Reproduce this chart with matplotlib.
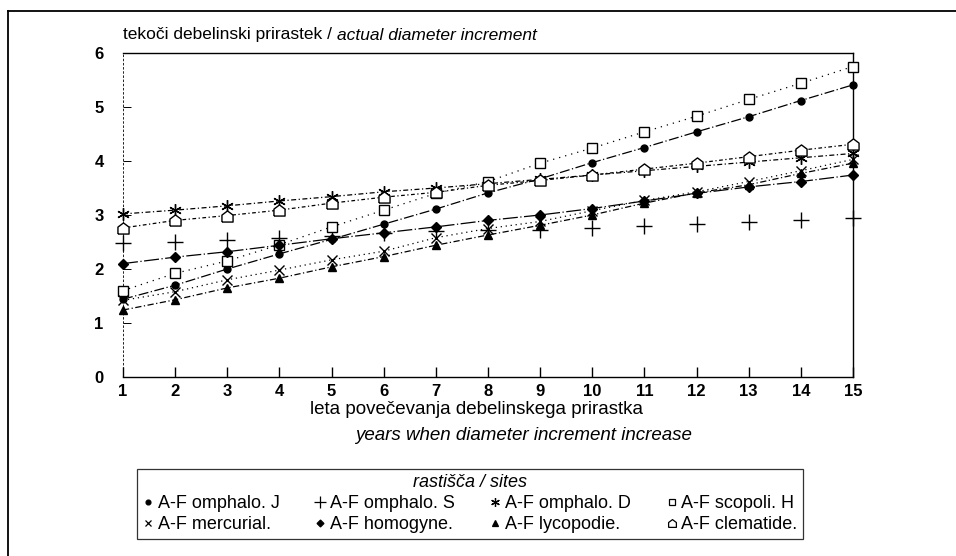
import matplotlib
matplotlib.use("Agg")
import matplotlib.pyplot as plt
from matplotlib.lines import Line2D

plt.rcParams['font.family'] = ['Liberation Sans', 'DejaVu Sans']

years = list(range(1, 16))
series_names = ["A-F omphalo. J", "A-F omphalo. S", "A-F omphalo. D", "A-F scopoli. H",
                "A-F mercurial.", "A-F homogyne.", "A-F lycopodie.", "A-F clematide."]
omphalo_J = [1.44, 1.70, 2.00, 2.28, 2.55, 2.83, 3.11, 3.41, 3.67, 3.97, 4.25, 4.54, 4.82, 5.12, 5.41]
omphalo_S = [2.48, 2.50, 2.53, 2.57, 2.62, 2.66, 2.70, 2.72, 2.73, 2.76, 2.80, 2.83, 2.87, 2.91, 2.94]
omphalo_D = [3.02, 3.09, 3.17, 3.26, 3.34, 3.43, 3.50, 3.58, 3.66, 3.74, 3.82, 3.90, 3.98, 4.06, 4.14]
scopoli_H = [1.60, 1.92, 2.15, 2.45, 2.78, 3.09, 3.40, 3.62, 3.96, 4.24, 4.54, 4.83, 5.14, 5.44, 5.75]
mercurial = [1.42, 1.58, 1.80, 1.98, 2.17, 2.33, 2.58, 2.75, 2.88, 3.08, 3.27, 3.43, 3.62, 3.82, 4.03]
homogyne = [2.10, 2.22, 2.32, 2.44, 2.56, 2.67, 2.78, 2.90, 3.00, 3.12, 3.26, 3.40, 3.52, 3.62, 3.74]
lycopodie = [1.24, 1.43, 1.65, 1.83, 2.04, 2.23, 2.44, 2.63, 2.81, 3.00, 3.22, 3.41, 3.56, 3.77, 3.96]
clematide = [2.76, 2.90, 2.99, 3.09, 3.22, 3.33, 3.42, 3.55, 3.64, 3.74, 3.85, 3.96, 4.08, 4.20, 4.31]
yticks = [0, 1, 2, 3, 4, 5, 6]

house = [(-1, -1), (1, -1), (1, 0.25), (0, 1), (-1, 0.25), (-1, -1)]

styles = [
    dict(marker='o', ls=(0, (8, 2, 1, 2)), ms=5, mfc='black'),
    dict(marker='+', ls='none', ms=12, mfc='none'),
    dict(marker=(6, 2, 0), ls=(0, (4, 2, 1, 2)), ms=9, mfc='none'),
    dict(marker='s', ls=(0, (1, 4)), ms=7, mfc='white'),
    dict(marker='x', ls=(0, (1, 3)), ms=7, mfc='none'),
    dict(marker='D', ls=(0, (12, 2, 1, 2)), ms=5, mfc='black'),
    dict(marker='^', ls=(0, (5, 2, 1, 2)), ms=6, mfc='black'),
    dict(marker=house, ls=(0, (3, 2, 1, 2)), ms=8, mfc='white'),
]
data = [omphalo_J, omphalo_S, omphalo_D, scopoli_H, mercurial, homogyne, lycopodie, clematide]

fig = plt.figure(figsize=(9.56, 5.56), dpi=100)
ax = fig.add_axes([123/956, 1-377/556, 730/956, 324/556])

handles = []
for name, vals, st in zip(series_names, data, styles):
    ax.plot(years, vals, color='black', lw=0.9, ls=st['ls'], marker=st['marker'],
            ms=st['ms'], mfc=st['mfc'], mec='black', mew=1.0, clip_on=False, zorder=3)
    handles.append(Line2D([], [], color='black', ls='none', marker=st['marker'],
                          ms=st['ms'] * 0.7, mfc=st['mfc'], mec='black', mew=0.9, label=name))

ax.set_xlim(1, 15)
ax.set_ylim(0, 6)
ax.set_xticks(years)
ax.set_yticks(yticks)
ax.tick_params(axis='x', direction='in', length=7, width=1, labelsize=12, pad=5)
ax.tick_params(axis='y', direction='in', length=6, width=0.7, labelsize=12, pad=14)
for lab in ax.get_xticklabels() + ax.get_yticklabels():
    lab.set_fontweight('bold')
for sp in ax.spines.values():
    sp.set_linewidth(1.0)
ax.spines['left'].set_linestyle((0, (2, 3)))
ax.spines['left'].set_linewidth(0.6)

t1 = fig.text(123/956, 1-35/556, "tekoči debelinski prirastek / ", fontsize=12.5,
              va='center', ha='left')
ax.annotate("actual diameter increment", xy=(1, 0.5), xycoords=t1, va='center', ha='left',
            fontsize=12.5, style='italic', annotation_clip=False)

fig.text(477/956, 1-410/556, "leta povečevanja debelinskega prirastka", fontsize=13.5,
         ha='center', va='center')
fig.text(523/956, 1-436/556, "years when diameter increment increase", fontsize=13.5,
         ha='center', va='center', style='italic')

order = [0, 4, 1, 5, 2, 6, 3, 7]
leg = fig.legend([handles[i] for i in order], [series_names[i] for i in order],
                 ncol=4, loc='upper left', mode='expand',
                 bbox_to_anchor=(137/956, 1-469/556, 666/956, 0.0001),
                 frameon=True, fancybox=False, edgecolor='black', fontsize=13,
                 title="rastišča / sites", title_fontsize=13, handlelength=0.6,
                 handletextpad=0.25, columnspacing=0.5, borderpad=0.3, labelspacing=0.22,
                 borderaxespad=0)
leg.get_title().set_style('italic')
leg.get_frame().set_linewidth(0.9)

fig.add_artist(Line2D([8/956, 8/956], [0, 1-11/556], transform=fig.transFigure,
                      color='black', lw=1.3))
fig.add_artist(Line2D([8/956, 1], [1-11/556, 1-11/556], transform=fig.transFigure,
                      color='black', lw=1.3))

fig.savefig("out.png", dpi=100)
